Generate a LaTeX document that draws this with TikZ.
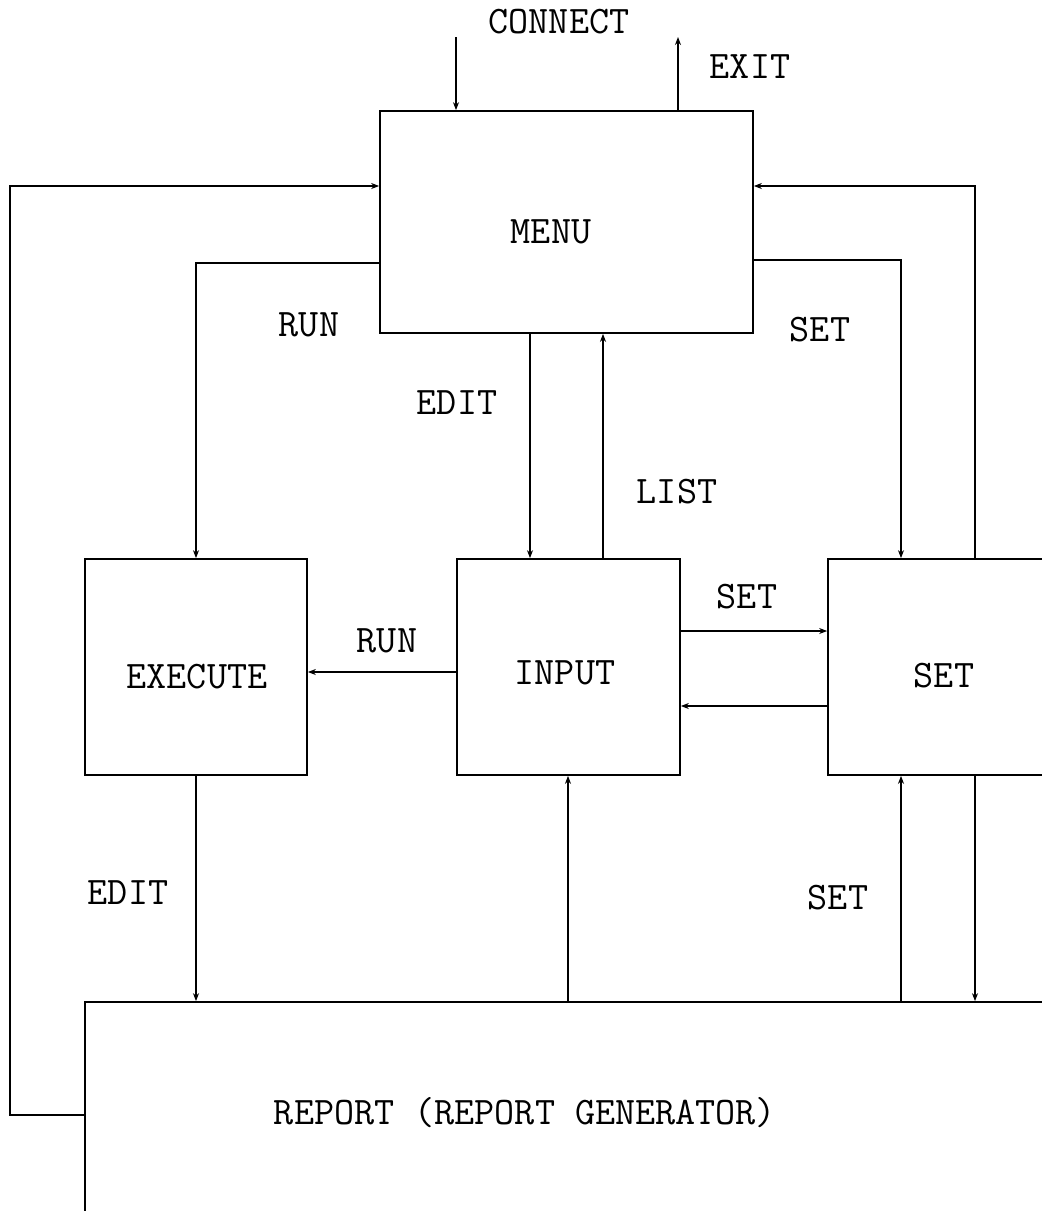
\documentclass[tikz,border=0pt]{standalone}
\usepackage{fontspec}
\usetikzlibrary{arrows.meta}
\begin{document}
\begin{tikzpicture}[x=1pt,y=-1pt, line width=1.7pt,
 box/.style={draw, rectangle, inner sep=0pt, line width=1.7pt},
 lbl/.style={font=\fontsize{39}{39}\selectfont\ttfamily, inner sep=0pt},
 arr/.style={-{Stealth[length=8pt,width=6pt]}}]
\useasboundingbox (0,0) rectangle (1042,1211);
\clip (0,0) rectangle (1042,1211);
% boxes
\node[box, minimum width=373pt, minimum height=222pt] (menu) at (566.5,222) {};
\node[box, minimum width=222pt, minimum height=216pt] (execute) at (196,667) {};
\node[box, minimum width=223pt, minimum height=216pt] (input) at (568.5,667) {};
\node[box, minimum width=232pt, minimum height=216pt] (set) at (944,667) {};
\node[box, minimum width=985pt, minimum height=260pt] (report) at (577.5,1132) {};
% box texts
\node[lbl] (tmenu) at (551,232) {MENU};
\node[lbl] (texec) at (197,677) {EXECUTE};
\node[lbl] (tinput) at (565,673) {INPUT};
\node[lbl] (tset) at (944,676) {SET};
\node[lbl] (treport) at (525,1113) {REPORT (REPORT GENERATOR)};
% free ends
\coordinate (cin) at (456,37);
\coordinate (cout) at (678,37);
% connectors
\draw[arr] (cin) -- (cin |- menu.north);
\draw[arr] (cout |- menu.north) -- (cout);
\draw[arr] (report.west |- 0,1115) -- (10,1115) -- (10,186) -- (menu.west |- 0,186);
\draw[arr] (set.north -| 975,0) -- (975,186) -- (menu.east |- 0,186);
\draw[arr] (menu.west |- 0,263) -- (196,263) -- (execute.north);
\draw[arr] (menu.east |- 0,260) -- (901,260) -- (set.north -| 901,0);
\draw[arr] (menu.south -| 530,0) -- (input.north -| 530,0);
\draw[arr] (input.north -| 603,0) -- (menu.south -| 603,0);
\draw[arr] (input.west |- 0,672) -- (execute.east |- 0,672);
\draw[arr] (input.east |- 0,631) -- (set.west |- 0,631);
\draw[arr] (set.west |- 0,706) -- (input.east |- 0,706);
\draw[arr] (execute.south) -- (report.north -| execute.south);
\draw[arr] (report.north -| 568,0) -- (input.south -| 568,0);
\draw[arr] (report.north -| 901,0) -- (set.south -| 901,0);
\draw[arr] (set.south -| 975,0) -- (report.north -| 975,0);
% connector labels
\node[lbl] (lconnect) at (559,22) {CONNECT};
\node[lbl] (lexit) at (750,67) {EXIT};
\node[lbl] (lrun1) at (309,325) {RUN};
\node[lbl] (lset1) at (820,330) {SET};
\node[lbl] (ledit1) at (457,403) {EDIT};
\node[lbl] (llist) at (677,492) {LIST};
\node[lbl] (lset2) at (747,597) {SET};
\node[lbl] (lrun2) at (387,641) {RUN};
\node[lbl] (ledit2) at (128,893) {EDIT};
\node[lbl] (lset3) at (838,898) {SET};
\end{tikzpicture}
\end{document}
